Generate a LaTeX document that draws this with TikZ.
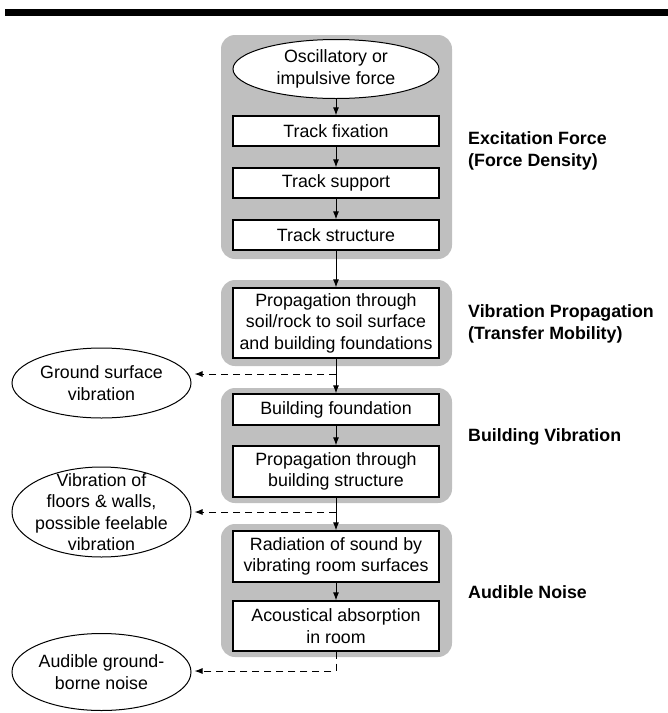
\documentclass[tikz,border=0pt]{standalone}
\usepackage{fontspec}
\setmainfont{Liberation Sans}
\usetikzlibrary{shapes.geometric,arrows.meta}
\definecolor{panelgray}{RGB}{191,191,191}
\tikzset{
  panel/.style={fill=panelgray, draw=none, rounded corners=14pt},
  box/.style={draw=black, line width=1.2pt, fill=white, minimum width=206pt, align=center, inner sep=0pt, font=\fs},
  ell/.style={draw=black, line width=1pt, fill=white, ellipse, inner sep=0pt},
  etext/.style={align=center, font=\fs, inner sep=0pt},
  lab/.style={align=left, anchor=west, font=\fs\bfseries, inner sep=0pt},
  arr/.style={line width=1pt, -{Latex[length=8pt,width=6pt]}},
  darr/.style={line width=1pt, dash pattern=on 7pt off 5pt, -{Latex[length=8pt,width=6pt]}}
}
\newcommand{\fs}{\fontsize{17.8}{21.5}\selectfont}
\begin{document}
\begin{tikzpicture}[x=1pt,y=-1pt]
\useasboundingbox (0,0) rectangle (668,713);
% top bar
\fill[black] (5,8.5) rectangle (668,16);
% panels
\fill[panel] (221,35) rectangle (452,259);
\fill[panel] (221,280) rectangle (452,366);
\fill[panel] (221,388) rectangle (452,503);
\fill[panel] (221,524) rectangle (452,657);
% first block
\node[ell, minimum width=206pt, minimum height=59pt] (E1) at (336,69) {};
\node[etext] (E1t) at (E1) {Oscillatory or\\impulsive force};
\node[box, minimum height=30pt] (B1) at (336,131) {Track fixation};
\node[box, minimum height=30pt] (B2) at (336,183) {Track support};
\node[box, minimum height=30pt] (B3) at (336,235) {Track structure};
% second block
\node[box, minimum height=70pt] (B4) at (336,323) {Propagation through\\soil/rock to soil surface\\and building foundations};
% third block
\node[box, minimum height=31pt] (B5) at (336,409.5) {Building foundation};
\node[box, minimum height=51pt] (B6) at (336,471.5) {Propagation through\\building structure};
% fourth block
\node[box, minimum height=51pt] (B7) at (336,556.5) {Radiation of sound by\\vibrating room surfaces};
\node[box, minimum height=50pt] (B8) at (336,626) {Acoustical absorption\\in room};
% side ellipses
\node[ell, minimum width=179pt, minimum height=70pt] (G) at (101.5,383) {};
\node[etext] (Gt) at (G) {Ground surface\\vibration};
\node[ell, minimum width=179pt, minimum height=90pt] (V) at (101.5,512) {};
\node[etext] (Vt) at (V) {Vibration of\\floors \& walls,\\possible feelable\\vibration};
\node[ell, minimum width=179pt, minimum height=77pt] (A) at (101.5,672) {};
\node[etext] (At) at (A) {Audible ground-\\borne noise};
% labels
\node[lab] (L1) at (468,151) {Excitation Force\\(Force Density)};
\node[lab] (L2) at (468,324) {Vibration Propagation\\(Transfer Mobility)};
\node[lab] (L3) at (468,437) {Building Vibration};
\node[lab] (L4) at (468,592) {Audible Noise};
% connectors
\draw[arr] (E1) -- (B1);
\draw[arr] (B1) -- (B2);
\draw[arr] (B2) -- (B3);
\draw[arr] (B3) -- (B4);
\draw[arr] (B4) -- (B5);
\draw[arr] (B5) -- (B6);
\draw[arr] (B6) -- (B7);
\draw[arr] (B7) -- (B8);
\coordinate (j1) at (336,374);
\coordinate (j2) at (336,512);
\coordinate (j3) at (336,671);
\draw[darr, shorten >=3pt] (j1) -- (j1 -| G.east);
\draw[darr, shorten >=3pt] (j2) -- (V);
\draw[darr, shorten >=3pt] (B8.south) -- (j3) -- (j3 -| A.east);
\end{tikzpicture}
\end{document}
